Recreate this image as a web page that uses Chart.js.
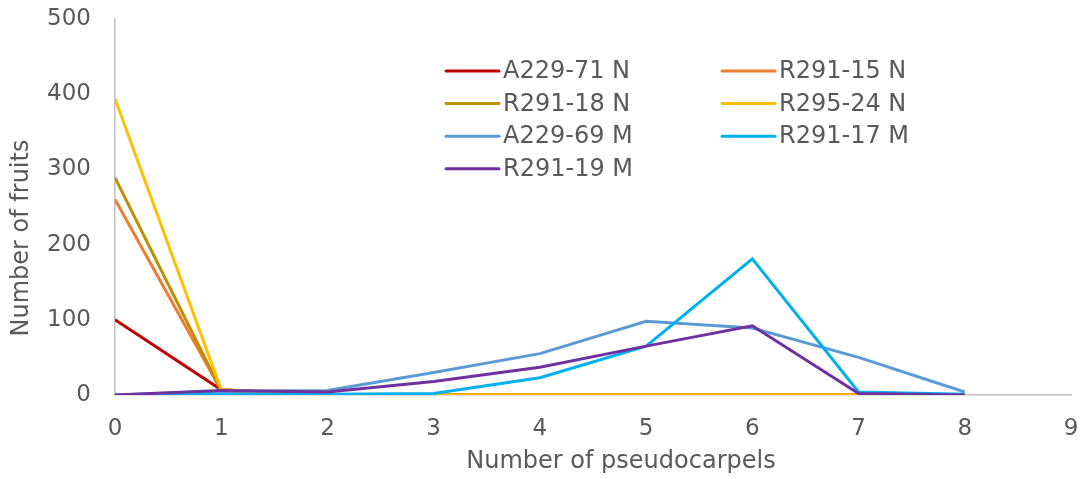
<!DOCTYPE html>
<html>
<head>
<meta charset="utf-8">
<script src="https://cdn.jsdelivr.net/npm/chart.js@4.4.0/dist/chart.umd.min.js"></script>
<style>
  html, body { margin: 0; padding: 0; background: #fff; }
  #wrap { width: 1086px; height: 479px; }
</style>
</head>
<body>
<div id="wrap"><canvas id="grafico" width="1086" height="479"></canvas></div>
<script>
// dados
const pseudocarpos = [0, 1, 2, 3, 4, 5, 6, 7, 8];
const seriesNomes = ["A229-71 N", "R291-15 N", "R291-18 N", "R295-24 N", "A229-69 M", "R291-17 M", "R291-19 M"];
const a229_71N = [100, 7, 0, 0, 0, 0, 0, 0, 0];
const r291_15N = [260, 6, 0, 0, 0, 0, 0, 0, 0];
const r291_18N = [289, 6, 0, 0, 0, 0, 0, 0, 0];
const r295_24N = [394, 7, 0, 0, 0, 0, 0, 0, 0];
const a229_69M = [0, 5, 6, 30, 55, 98, 89, 50, 4];
const r291_17M = [0, 1, 1, 2, 23, 65, 181, 4, 1];
const r291_19M = [0, 6, 4, 18, 37, 65, 92, 2, 0];
const yTicks = [0, 100, 200, 300, 400, 500];
const xTicks = [0, 1, 2, 3, 4, 5, 6, 7, 8, 9];
const tituloX = "Number of pseudocarpels";
const tituloY = "Number of fruits";

const cores = ["#C00000", "#ED7D31", "#BF9000", "#FFC000", "#5B9BD5", "#00B0F0", "#7030A0"];
const valores = [a229_71N, r291_15N, r291_18N, r295_24N, a229_69M, r291_17M, r291_19M];

const FONTE = "'DejaVu Sans', Verdana, sans-serif";
const CINZA = "#595959";

const datasets = seriesNomes.map((nome, i) => ({
    label: nome,
    data: pseudocarpos.map((x, j) => ({ x: x, y: valores[i][j] })),
    borderColor: cores[i],
    backgroundColor: cores[i],
    borderWidth: 3,
    pointRadius: 0,
    tension: 0,
    order: seriesNomes.length - i
}));

// legenda em duas colunas + títulos dos eixos (posição igual à do Excel)
const legendaPlugin = {
    id: 'legendaDuasColunas',
    afterDraw(chart) {
        const ctx = chart.ctx;
        const colX = [446, 722];
        const y0 = 71, passo = 32.6;
        ctx.save();
        ctx.font = "24px " + FONTE;
        ctx.textBaseline = "middle";
        ctx.lineCap = "round";
        chart.data.datasets.forEach((ds, i) => {
            const col = i % 2;
            const row = Math.floor(i / 2);
            const x = colX[col];
            const y = y0 + row * passo;
            ctx.strokeStyle = ds.borderColor;
            ctx.lineWidth = 3;
            ctx.beginPath();
            ctx.moveTo(x, y);
            ctx.lineTo(x + 53, y);
            ctx.stroke();
            ctx.fillStyle = CINZA;
            ctx.fillText(ds.label, x + 57, y + 1);
        });

        ctx.textAlign = "center";
        ctx.fillText(tituloX, 621, 462);
        ctx.translate(22, 238);
        ctx.rotate(-Math.PI / 2);
        ctx.fillText(tituloY, 0, 0);
        ctx.restore();
    }
};

new Chart(document.getElementById('grafico').getContext('2d'), {
    type: 'line',
    data: { datasets: datasets },
    plugins: [legendaPlugin],
    options: {
        responsive: false,
        animation: false,
        layout: { padding: { left: 0, right: 15, top: 19, bottom: 0 } },
        plugins: {
            legend: { display: false },
            tooltip: { enabled: false }
        },
        scales: {
            x: {
                type: 'linear',
                min: 0,
                max: 9,
                afterBuildTicks: (s) => { s.ticks = xTicks.map(v => ({ value: v })); },
                afterFit: (s) => { s.height = 84; s.paddingLeft = 0; s.paddingRight = 0; },
                grid: { display: false, drawTicks: false },
                border: { display: true, color: "#BFBFBF", width: 1.5 },
                ticks: { color: CINZA, font: { family: FONTE, size: 23 }, padding: 20, maxRotation: 0 }
            },
            y: {
                min: 0,
                max: 500,
                afterBuildTicks: (s) => { s.ticks = yTicks.map(v => ({ value: v })); },
                afterFit: (s) => { s.width = 115; s.paddingTop = 0; s.paddingBottom = 0; },
                grid: { display: false, drawTicks: false },
                border: { display: true, color: "#BFBFBF", width: 1.5 },
                ticks: { color: CINZA, font: { family: FONTE, size: 23 }, padding: 24 }
            }
        }
    }
});
</script>
</body>
</html>
